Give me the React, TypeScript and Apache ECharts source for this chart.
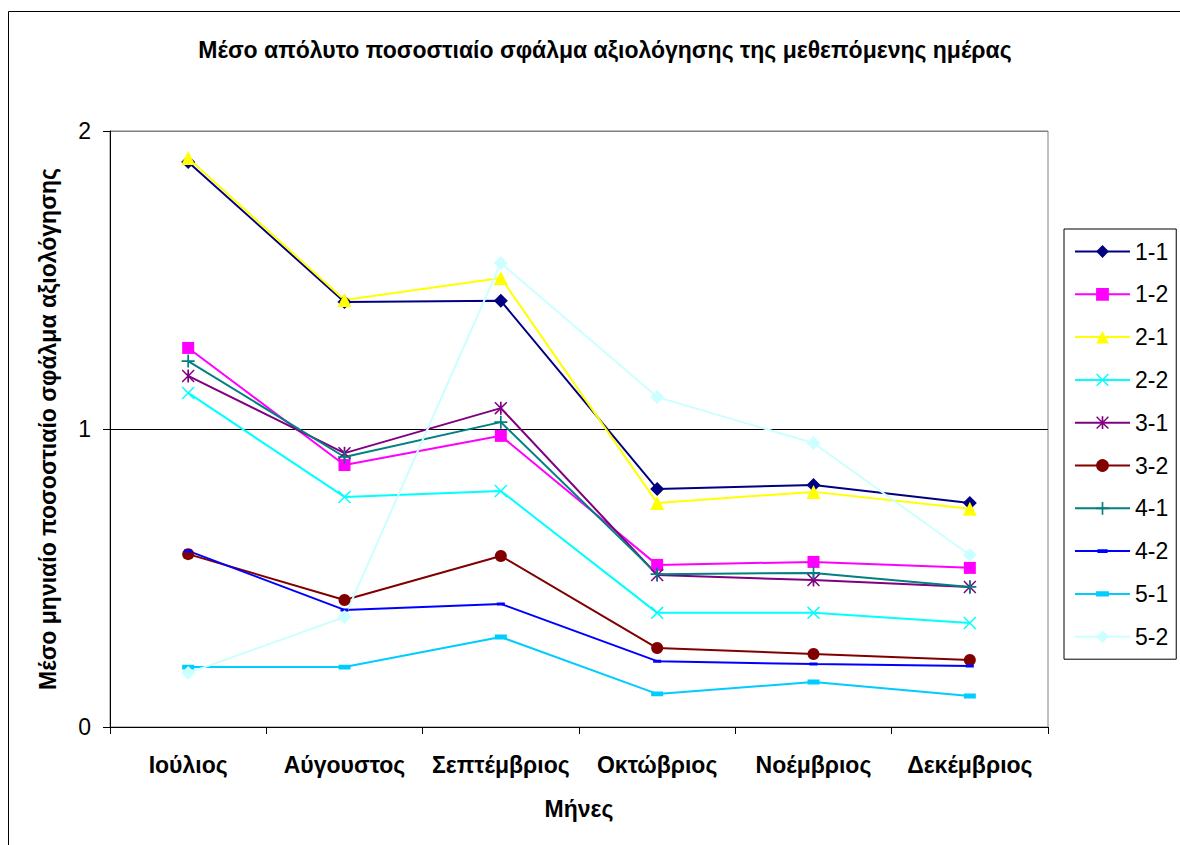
import React, { useEffect, useRef } from "react";
import * as echarts from "echarts";

const months = ["Ιούλιος", "Αύγουστος", "Σεπτέμβριος", "Οκτώβριος", "Νοέμβριος", "Δεκέμβριος"];
const yTicks = [0, 1, 2];

const s11 = [1.896, 1.426, 1.43, 0.799, 0.812, 0.752];
const s12 = [1.272, 0.879, 0.977, 0.544, 0.554, 0.534];
const s21 = [1.909, 1.433, 1.507, 0.752, 0.789, 0.732];
const s22 = [1.121, 0.772, 0.792, 0.383, 0.383, 0.349];
const s31 = [1.178, 0.919, 1.07, 0.51, 0.493, 0.47];
const s32 = [0.58, 0.426, 0.574, 0.265, 0.245, 0.225];
const s41 = [1.228, 0.906, 1.023, 0.513, 0.517, 0.47];
const s42 = [0.591, 0.393, 0.413, 0.221, 0.211, 0.205];
const s51 = [0.201, 0.201, 0.302, 0.111, 0.151, 0.104];
const s52 = [0.181, 0.369, 1.557, 1.107, 0.953, 0.577];

const TITLE = "Μέσο απόλυτο ποσοστιαίο σφάλμα αξιολόγησης της μεθεπόμενης ημέρας";
const Y_NAME = "Μέσο μηνιαίο ποσοστιαίο σφάλμα αξιολόγησης";
const X_NAME = "Μήνες";

const X_PATH = "path://M0,0.8 L0.8,0 L5,4.2 L9.2,0 L10,0.8 L5.8,5 L10,9.2 L9.2,10 L5,5.8 L0.8,10 L0,9.2 L4.2,5 Z";
const STAR_PATH =
  "path://M0,0.8 L0.8,0 L5,4.2 L9.2,0 L10,0.8 L5.8,5 L10,9.2 L9.2,10 L5,5.8 L0.8,10 L0,9.2 L4.2,5 Z M4.35,0 L5.65,0 L5.65,10 L4.35,10 Z";
const PLUS_PATH = "path://M4.35,0 L5.65,0 L5.65,4.35 L10,4.35 L10,5.65 L5.65,5.65 L5.65,10 L4.35,10 L4.35,5.65 L0,5.65 L0,4.35 L4.35,4.35 Z";
const DASH_SMALL = "path://M1,3.5 L9,3.5 L9,6.5 L1,6.5 Z M0,0 L0,0 Z M10,10 L10,10 Z";
const DASH_BIG = "path://M0,3 L10,3 L10,7 L0,7 Z M0,0 L0,0 Z M10,10 L10,10 Z";

const seriesDefs = [
  { name: "1-1", data: s11, color: "#000080", symbol: "diamond", size: 14 },
  { name: "1-2", data: s12, color: "#FF00FF", symbol: "rect", size: 12 },
  { name: "2-1", data: s21, color: "#FFFF00", symbol: "triangle", size: 14 },
  { name: "2-2", data: s22, color: "#00FFFF", symbol: X_PATH, size: 13 },
  { name: "3-1", data: s31, color: "#800080", symbol: STAR_PATH, size: 13 },
  { name: "3-2", data: s32, color: "#800000", symbol: "circle", size: 12 },
  { name: "4-1", data: s41, color: "#008080", symbol: PLUS_PATH, size: 13 },
  { name: "4-2", data: s42, color: "#0000FF", symbol: DASH_SMALL, size: 10 },
  { name: "5-1", data: s51, color: "#00CCFF", symbol: DASH_BIG, size: 12 },
  { name: "5-2", data: s52, color: "#CCFFFF", symbol: "diamond", size: 14 },
];

const FONT = "'Liberation Sans', Arial, sans-serif";

export default function App() {
  const ref = useRef<HTMLDivElement>(null);
  useEffect(() => {
    if (!ref.current) return;
    const chart = echarts.init(ref.current, undefined, { renderer: "svg" });
    chart.setOption({
      animation: false,
      backgroundColor: "#ffffff",
      textStyle: { fontFamily: FONT },
      graphic: [
        {
          type: "rect",
          shape: { x: 8.5, y: 11.5, width: 1300, height: 1000 },
          style: { fill: "none", stroke: "#000000", lineWidth: 1 },
          z: 0,
        },
        {
          type: "text",
          x: 605,
          y: 50,
          style: {
            text: TITLE,
            fontFamily: FONT,
            fontSize: 23,
            fontWeight: "bold",
            fill: "#000000",
            align: "center",
            verticalAlign: "middle",
          },
        },
      ],
      grid: {
        left: 110,
        top: 131,
        right: 132,
        bottom: 118,
        show: true,
        borderColor: "#808080",
        borderWidth: 1,
        backgroundColor: "transparent",
      },
      legend: {
        orient: "vertical",
        left: 1064,
        top: 229,
        padding: [11, 8, 11, 10],
        itemGap: 19.8,
        itemWidth: 55,
        itemHeight: 16,
        borderColor: "#000000",
        borderWidth: 1,
        backgroundColor: "#ffffff",
        textStyle: { fontFamily: FONT, fontSize: 23, color: "#000000", lineHeight: 20 },
        data: seriesDefs.map((s) => s.name),
      },
      xAxis: {
        type: "category",
        data: months,
        boundaryGap: true,
        name: X_NAME,
        nameLocation: "middle",
        nameGap: 70,
        nameTextStyle: { fontFamily: FONT, fontSize: 23, fontWeight: "bold", color: "#000000", lineHeight: 23 },
        axisLine: { lineStyle: { color: "#000000", width: 1 } },
        axisTick: { show: true, inside: false, length: 7, interval: 0, alignWithLabel: false, lineStyle: { color: "#000000" } },
        axisLabel: { fontFamily: FONT, fontSize: 23, fontWeight: "bold", color: "#000000", margin: 26, interval: 0, lineHeight: 23 },
        splitLine: { show: false },
      },
      yAxis: {
        type: "value",
        min: yTicks[0],
        max: yTicks[yTicks.length - 1],
        interval: 1,
        name: Y_NAME,
        nameLocation: "middle",
        nameGap: 51,
        nameRotate: 90,
        nameTextStyle: { fontFamily: FONT, fontSize: 23, fontWeight: "bold", color: "#000000", lineHeight: 23 },
        axisLine: { show: true, lineStyle: { color: "#000000", width: 1 } },
        axisTick: { show: true, inside: false, length: 7, lineStyle: { color: "#000000" } },
        axisLabel: { fontFamily: FONT, fontSize: 23, color: "#000000", margin: 19 },
        splitLine: { show: true, lineStyle: { color: ["#000000", "#000000", "#808080"], width: 1 } },
      },
      series: seriesDefs.map((s) => ({
        name: s.name,
        type: "line",
        data: s.data,
        symbol: s.symbol,
        symbolSize: s.size,
        showAllSymbol: true,
        lineStyle: { color: s.color, width: 2 },
        itemStyle: { color: s.color, borderWidth: 0 },
        emphasis: { disabled: true },
      })),
    });
    return () => chart.dispose();
  }, []);
  return (
    <div
      ref={ref}
      style={{ position: "fixed", left: 0, top: 0, width: 1180, height: 845 }}
    />
  );
}
